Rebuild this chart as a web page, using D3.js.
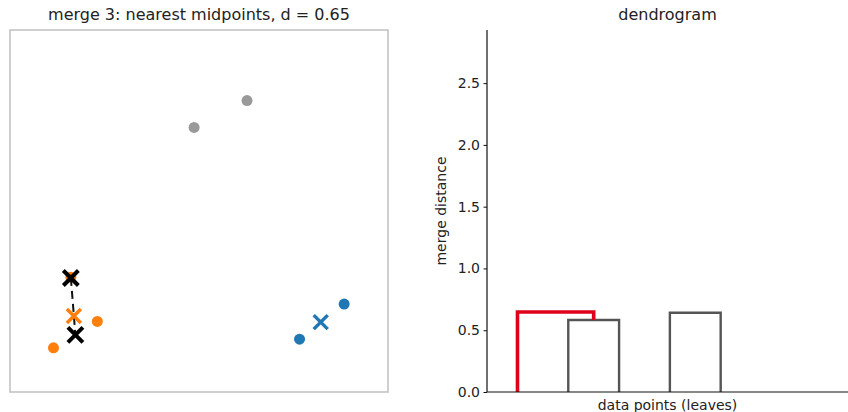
<!DOCTYPE html>
<html>
<head>
<meta charset="utf-8">
<script src="https://cdn.jsdelivr.net/npm/d3@7"></script>
<style>
  body { margin: 0; background: #fff; }
  svg { font-family: "DejaVu Sans", sans-serif; display: block; }
</style>
</head>
<body>
<svg id="chart" width="848" height="412"></svg>
<script>
// scatter points (data units), grouped by cluster colour
const grayPoints = [[4.87, 7.31], [6.27, 8.05]];
const bluePoints = [[7.66, 1.46], [8.84, 2.43]];
const orangePoints = [[1.61, 3.17], [2.31, 1.95], [1.15, 1.22]];
const blueCentroid = [8.22, 1.93];
const orangeCentroid = [1.69, 2.10];
const mergedMidpoints = [[1.61, 3.15], [1.73, 1.58]];

// dendrogram links: leaf positions (matplotlib style 5, 15, ...) and heights
const leafCount = 7;
const grayLinks = [
  { x: [15, 15, 25, 25], y: [0, 0.583, 0.583, 0] },
  { x: [35, 35, 45, 45], y: [0, 0.642, 0.642, 0] }
];
const redLink = { x: [5, 5, 20, 20], y: [0, 0.648, 0.648, 0.583] };
const yTicks = [0, 0.5, 1.0, 1.5, 2.0, 2.5];

const svg = d3.select("#chart");

// ---- left panel: scatter ----
const left = { x0: 10, x1: 388, y0: 30, y1: 392 };
const sx = d3.scaleLinear().domain([0, 10]).range([left.x0, left.x1]);
const sy = d3.scaleLinear().domain([0, 10]).range([left.y1, left.y0]);

svg.append("text")
  .attr("x", (left.x0 + left.x1) / 2)
  .attr("y", 20)
  .attr("text-anchor", "middle")
  .attr("font-size", 16)
  .attr("fill", "#222")
  .text("merge 3: nearest midpoints, d = 0.65");

svg.append("rect")
  .attr("x", left.x0).attr("y", left.y0)
  .attr("width", left.x1 - left.x0).attr("height", left.y1 - left.y0)
  .attr("fill", "none")
  .attr("stroke", "#c4c4c4")
  .attr("stroke-width", 1.6);

const dots = [
  { pts: grayPoints, color: "#999999" },
  { pts: bluePoints, color: "#1f77b4" },
  { pts: orangePoints, color: "#ff7f0e" }
];
dots.forEach(g => {
  svg.append("g").selectAll("circle")
    .data(g.pts)
    .join("circle")
    .attr("cx", d => sx(d[0]))
    .attr("cy", d => sy(d[1]))
    .attr("r", 5.5)
    .attr("fill", g.color);
});

function cross(sel, p, size, color, width) {
  const cx = sx(p[0]), cy = sy(p[1]), h = size / 2;
  sel.append("path")
    .attr("d", `M${cx - h},${cy - h}L${cx + h},${cy + h}M${cx - h},${cy + h}L${cx + h},${cy - h}`)
    .attr("stroke", color)
    .attr("stroke-width", width)
    .attr("fill", "none");
}

// dashed link between the two merged midpoints
svg.append("line")
  .attr("x1", sx(mergedMidpoints[0][0])).attr("y1", sy(mergedMidpoints[0][1]))
  .attr("x2", sx(mergedMidpoints[1][0])).attr("y2", sy(mergedMidpoints[1][1]))
  .attr("stroke", "#111")
  .attr("stroke-width", 2)
  .attr("stroke-dasharray", "8,5");

const marks = svg.append("g");
cross(marks, blueCentroid, 14, "#1f77b4", 3.5);
cross(marks, orangeCentroid, 14, "#ff7f0e", 3.5);
mergedMidpoints.forEach(p => cross(marks, p, 15, "#000", 4));

// ---- right panel: dendrogram ----
const right = { x0: 487, x1: 848, y0: 30, y1: 392 };
const dx = d3.scaleLinear().domain([-1, 10 * leafCount + 1]).range([right.x0, right.x0 + 5.08 * (10 * leafCount + 2)]);
const dy = d3.scaleLinear().domain([0, 2.93]).range([right.y1, right.y0]);

svg.append("text")
  .attr("x", (right.x0 + right.x1) / 2)
  .attr("y", 20)
  .attr("text-anchor", "middle")
  .attr("font-size", 16)
  .attr("fill", "#222")
  .text("dendrogram");

const linkPath = l => d3.line()(l.x.map((x, i) => [dx(x), dy(l.y[i])]));

svg.append("g").selectAll("path")
  .data(grayLinks)
  .join("path")
  .attr("d", linkPath)
  .attr("fill", "none")
  .attr("stroke", "#555")
  .attr("stroke-width", 2.4);

svg.append("path")
  .attr("d", linkPath(redLink))
  .attr("fill", "none")
  .attr("stroke", "#e0001b")
  .attr("stroke-width", 3.6);

const yAxis = svg.append("g")
  .attr("transform", `translate(${right.x0},0)`)
  .call(d3.axisLeft(dy).tickValues(yTicks).tickFormat(d3.format(".1f")).tickSize(3.5).tickPadding(3.5));
yAxis.select(".domain").attr("d", `M0,${right.y0}V${right.y1}`).attr("stroke", "#111").attr("stroke-width", 1.2);
yAxis.selectAll(".tick line").attr("stroke", "#111");
yAxis.selectAll(".tick text").attr("font-size", 14).attr("fill", "#222").attr("font-family", "DejaVu Sans");

svg.append("line")
  .attr("x1", right.x0).attr("x2", right.x1)
  .attr("y1", right.y1).attr("y2", right.y1)
  .attr("stroke", "#111")
  .attr("stroke-width", 1.2);

svg.append("text")
  .attr("x", (right.x0 + right.x1) / 2)
  .attr("y", 410)
  .attr("text-anchor", "middle")
  .attr("font-size", 14)
  .attr("fill", "#222")
  .text("data points (leaves)");

svg.append("text")
  .attr("transform", `translate(446,${(right.y0 + right.y1) / 2}) rotate(-90)`)
  .attr("text-anchor", "middle")
  .attr("font-size", 14)
  .attr("fill", "#222")
  .text("merge distance");
</script>
</body>
</html>
